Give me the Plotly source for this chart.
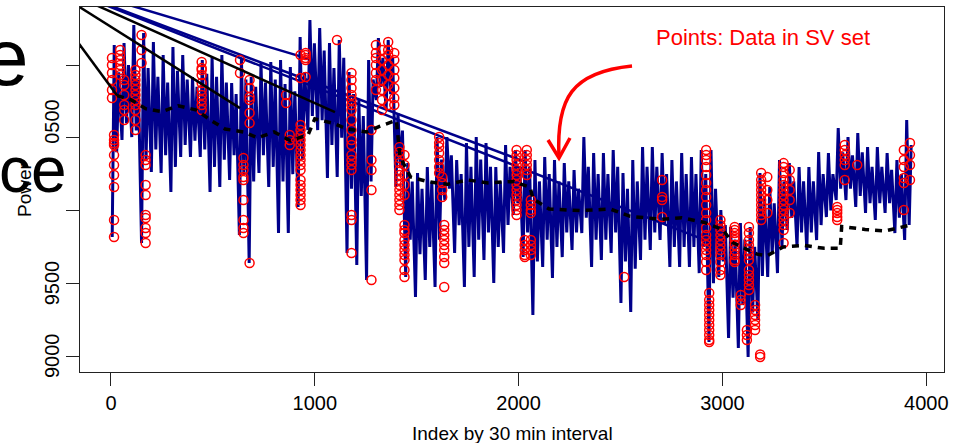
import plotly.graph_objects as go

# ---------------- data ----------------
x_ticks = [0, 1000, 2000, 3000, 4000]
y_ticks = [9000, 9500, 10000, 10500, 11000]
y_tick_labels = ["9000", "9500", "", "0500", ""]

# daily extremes of the power series (48 half-hour points per day)
day_max = [11138, 11151, 11275, 11220, 11158, 11069, 11124, 11069, 10918, 11034,
           11055, 11069, 10876, 11048, 10918, 11014, 11021, 11034, 10986, 11192,
           11309, 11254, 11151, 11172, 10952, 10759, 11034, 11186, 11172, 10670,
           10326, 10258, 10299, 10505, 10505, 10347, 10464, 10505, 10464, 10299,
           10450, 10416, 10416, 10347, 10368, 10347, 10326, 10278, 10505, 10395,
           10395, 10416, 10258, 10347, 10436, 10436, 10395, 10347, 10395, 10368,
           10416, 10416, 10003, 9887, 9914, 9887, 10258, 10162, 10347, 10326,
           10299, 10299, 10402, 10395, 10567, 10505, 10533, 10436, 10436, 10395,
           10347, 10622]
day_min = [9818, 10485, 10505, 9777, 10265, 10258, 10127, 10368, 10368, 10368,
           10127, 10162, 10210, 9832, 9639, 10258, 10162, 9845, 9845, 10024,
           10553, 10553, 10223, 10230, 9708, 9625, 9522, 10759, 10691, 10162,
           9543, 9406, 9522, 9474, 10072, 9708, 9474, 9543, 9660, 9502,
           9708, 9969, 9680, 9282, 9612, 9536, 9680, 9729, 9845, 9612,
           9660, 9708, 9364, 9302, 9660, 9729, 9797, 9612, 9612, 9612,
           9570, 9096, 9543, 9124, 9055, 8993, 9247, 9543, 9570, 9866,
           9749, 9729, 9797, 9955, 10072, 10072, 10024, 9983, 9935, 9983,
           9845, 9797]
# typical secondary swing of each day (edges of the dense band)
day_high2 = [10950, 11000, 10900, 10980, 10920, 10880, 10960, 10900, 10850, 10940,
             10920, 10880, 10800, 10900, 10850, 10880, 10900, 10870, 10820, 10950,
             11150, 11100, 10980, 11050, 10800, 10650, 10900, 11050, 11050, 10550,
             10200, 10150, 10200, 10350, 10380, 10250, 10300, 10350, 10300, 10200,
             10300, 10300, 10300, 10200, 10250, 10200, 10200, 10150, 10300, 10250,
             10250, 10300, 10150, 10200, 10300, 10300, 10250, 10200, 10250, 10250,
             10250, 10150, 9900, 9800, 9800, 9750, 10100, 10050, 10200, 10200,
             10200, 10200, 10250, 10250, 10400, 10380, 10400, 10300, 10300, 10280,
             10250, 10450]
day_low2 = [10400, 10600, 10550, 10350, 10420, 10380, 10300, 10450, 10480, 10420,
            10300, 10350, 10380, 10250, 10200, 10380, 10300, 10200, 10250, 10350,
            10650, 10620, 10450, 10500, 10150, 10100, 10200, 10850, 10800, 10300,
            9800, 9700, 9750, 9800, 10150, 9900, 9750, 9800, 9850, 9750,
            9900, 10050, 9850, 9650, 9800, 9750, 9850, 9850, 9950, 9800,
            9800, 9850, 9650, 9600, 9800, 9850, 9900, 9750, 9750, 9750,
            9750, 9500, 9650, 9400, 9350, 9300, 9550, 9700, 9750, 9950,
            9850, 9850, 9900, 10000, 10150, 10150, 10100, 10050, 10050, 10050,
            9950, 9900]
points_per_day = 48

# data in the SV set (index, values stacked at that index)
sv_idx = [5, 15, 45, 65, 120, 150, 170, 445, 633, 650, 680, 859, 877, 930, 955,
          1109, 1180, 1278, 1300, 1330, 1360, 1390, 1415, 1440, 1610, 1625, 1635,
          1990, 2030, 2040, 2060, 2518, 2704, 2920, 2935, 2990, 3060, 3090, 3120,
          3130, 3160, 3185, 3190, 3220, 3300, 3330, 3563, 3600, 3661, 3890, 3920]
sv_vals = [
    [11048, 11000, 10945, 10897, 10828, 10773],
    [10519, 10485, 10464, 10450, 10381, 10313, 10244, 10162, 9935, 9818],
    [11103, 11069, 11034, 11000, 10966, 10931],
    [10897, 10863, 10794, 10725, 10691, 10622],
    [10966, 10931, 10897, 10863, 10828, 10794, 10759, 10725, 10691, 10622, 10553],
    [11206, 11103, 11014],
    [10381, 10347, 10313, 10175, 10107, 9969, 9948, 9880, 9845, 9777],
    [11021, 10979, 10966, 10931, 10876, 10828, 10794, 10759, 10725, 10691],
    [11034, 10945],
    [10361, 10313, 10278, 10230, 10210, 10072, 9935, 9880, 9845],
    [10897, 10842, 10780, 10759, 10670, 10601, 9639],
    [10794, 10739],
    [10519, 10485, 10450],
    [11069, 10911, 10588, 10553, 10519, 10485, 10450, 10416, 10381, 10347, 10313,
     10278, 10210, 10175, 10141, 10107, 10072, 10038],
    [10918, 11083, 11069, 11048, 11034],
    [11172],
    [10945, 10897, 10842, 10794, 10759, 10725, 10691, 10622, 10553, 10485, 10450,
     10381, 10347, 10313, 10278, 9969, 9935, 9708],
    [10553, 10347, 10278, 10141, 9522],
    [11138, 11083, 11048, 11000, 10945, 10897, 10828],
    [11103, 11034, 10966, 10897, 10828, 10759, 10691],
    [11158, 11103, 11069, 11000, 10931, 10863, 10794, 10725],
    [11083, 11034, 10966, 10911, 10842, 10773, 10725],
    [10436, 10402, 10361, 10326, 10278, 10244, 10210, 10175, 10141, 10107, 10072,
     10038, 10003],
    [10381, 10313, 10244, 10175, 10107, 9900, 9866, 9845, 9797, 9763, 9729, 9694,
     9660, 9591, 9543],
    [10505, 10464, 10436, 10395, 10347, 10299, 10258],
    [10230, 10189, 10141, 10093],
    [9900, 9866, 9831, 9797, 9763, 9729, 9680, 9639, 9474],
    [10416, 10381, 10347, 10313, 10278, 10244, 10210, 10175, 10141, 10107, 10072,
     10038, 10003, 9969],
    [9797, 9763, 9729, 9694, 9680],
    [10416, 10381, 10347, 10313, 10278, 10244],
    [10072, 10038, 10003, 9983, 9797, 9763, 9729, 9694],
    [9543],
    [10210, 10093, 10072, 9955],
    [10416, 10381, 10347, 10299, 10244, 10189, 10141, 10093, 10038, 9983, 9935,
     9880, 9831, 9797, 9763, 9729, 9694, 9646, 9591],
    [9433, 9385, 9351, 9316, 9282, 9247, 9213, 9179, 9144, 9110, 9096],
    [9935, 9900, 9866, 9831, 9797, 9763, 9729, 9694, 9646, 9591, 9557],
    [9887, 9866, 9845, 9818, 9797, 9763, 9729, 9694, 9660, 9646],
    [9419, 9385, 9351],
    [9179, 9144, 9110],
    [9887, 9845, 9797, 9763, 9729, 9694, 9660, 9591, 9557, 9522, 9488, 9454],
    [9351, 9316, 9282, 9247, 9213, 9179],
    [8993, 9010],
    [10258, 10210, 10175, 10141, 10107, 10072, 10038, 10003, 9969, 9935],
    [10230, 10141, 10072, 9983],
    [10326, 10299, 10258, 10210, 10175, 10141, 10107, 10072, 10038, 10003, 9969,
     9935, 9900, 9866, 9777],
    [10278, 10210, 10141, 10072, 9983],
    [10024, 10003, 9983, 9955, 9935],
    [10450, 10416, 10381, 10347, 10313, 10210],
    [10313],
    [10416, 10347, 10299, 10223, 10189, 10003],
    [10464, 10381, 10313, 10210],
]

# fitted (dashed) curve
fit_idx = [30, 100, 170, 250, 330, 420, 490, 560, 650, 720, 800, 880, 967, 1000,
           1090, 1160, 1255, 1320, 1400, 1418, 1470, 1550, 1650, 1750, 1850, 1973,
           2056, 2071, 2150, 2300, 2450, 2547, 2700, 2800, 2906, 3000, 3050, 3136,
           3170, 3220, 3298, 3400, 3500, 3578, 3585, 3700, 3800, 3921]
fit_val = [10790, 10760, 10700, 10680, 10720, 10690, 10620, 10560, 10540, 10500,
           10540, 10480, 10520, 10630, 10600, 10560, 10540, 10580, 10620, 10370,
           10230, 10200, 10180, 10210, 10190, 10200, 10160, 10080, 10010, 10000,
           10010, 9960, 9940, 9950, 9920, 9870, 9780, 9720, 9700, 9690, 9750,
           9760, 9740, 9740, 9890, 9870, 9860, 9900]

# stray straight segments from an off-chart point
jump_origin = (-405, 11620)
black_jump_ends = [(30, 10790), (633, 10704), (1099, 10677)]
blue_jump_ends = [(991, 11034), (2040, 10330), (2915, 9797)]

BLUE = "#00008B"
RED = "#FF0000"
FONT = "Liberation Sans, Arial, sans-serif"


def paper_x(px):
    return (px - 80) / 864.0


def paper_y(py):
    return (372 - py) / 365.0


fig = go.Figure()

# power series
bx, by = [], []
for d in range(len(day_max)):
    base = d * points_per_day
    bx += [base + 6, base + 16, base + 28, base + 38]
    by += [day_min[d], day_max[d], day_low2[d], day_high2[d]]
fig.add_trace(go.Scatter(x=bx, y=by, mode="lines",
                         line=dict(color=BLUE, width=3), hoverinfo="skip"))

for ex, ey in blue_jump_ends:
    fig.add_trace(go.Scatter(x=[jump_origin[0], ex], y=[jump_origin[1], ey],
                             mode="lines", line=dict(color=BLUE, width=2.5),
                             hoverinfo="skip"))

# SV points
sx, sy = [], []
for i, vals in zip(sv_idx, sv_vals):
    for v in vals:
        sx.append(i)
        sy.append(v)
fig.add_trace(go.Scatter(x=sx, y=sy, mode="markers",
                         marker=dict(symbol="circle-open", size=9, color=RED,
                                     line=dict(color=RED, width=1.5)),
                         hoverinfo="skip"))

# dashed fit
fig.add_trace(go.Scatter(x=fit_idx, y=fit_val, mode="lines",
                         line=dict(color="black", width=3.5, dash="7px,6px"),
                         hoverinfo="skip"))

for ex, ey in black_jump_ends:
    fig.add_trace(go.Scatter(x=[jump_origin[0], ex], y=[jump_origin[1], ey],
                             mode="lines", line=dict(color="black", width=2.5),
                             hoverinfo="skip"))

annotations = []
# large slide text bleeding in from the left
annotations.append(dict(text="e", xref="paper", yref="paper",
                        x=paper_x(6), y=paper_y(58), xanchor="center", yanchor="middle",
                        showarrow=False, font=dict(family=FONT, size=80, color="black")))
annotations.append(dict(text="ce", xref="paper", yref="paper",
                        x=paper_x(33), y=paper_y(170), xanchor="center", yanchor="middle",
                        showarrow=False, font=dict(family=FONT, size=64, color="black")))

# y tick labels (rotated, R style)
for v, lab in zip(y_ticks, y_tick_labels):
    if lab:
        yy = v if lab != "0500" else 10610
        annotations.append(dict(text=lab, xref="paper", yref="y", x=paper_x(52), y=yy,
                                xanchor="center", yanchor="middle", textangle=-90,
                                showarrow=False,
                                font=dict(family=FONT, size=20, color="black")))

annotations.append(dict(text="Power", xref="paper", yref="paper",
                        x=paper_x(24), y=paper_y(190), xanchor="center", yanchor="middle",
                        textangle=-90, showarrow=False,
                        font=dict(family=FONT, size=19, color="black")))
annotations.append(dict(text="Index by 30 min interval", xref="paper", yref="paper",
                        x=paper_x(512), y=paper_y(433), xanchor="center", yanchor="middle",
                        showarrow=False, font=dict(family=FONT, size=19, color="black")))
annotations.append(dict(text="Points: Data in SV set", xref="paper", yref="paper",
                        x=paper_x(763), y=paper_y(37), xanchor="center", yanchor="middle",
                        showarrow=False, font=dict(family=FONT, size=22, color=RED)))


def pt(px, py):
    return "%.4f,%.4f" % (paper_x(px), paper_y(py))


arrow_path = "M " + pt(632, 66) + " C " + pt(572, 72) + " " + pt(556, 98) + " " + pt(559, 157)
head_path = "M " + pt(548, 140) + " L " + pt(559, 158) + " L " + pt(570, 138)
shapes = [
    dict(type="path", xref="paper", yref="paper", path=arrow_path,
         line=dict(color=RED, width=3.5)),
    dict(type="path", xref="paper", yref="paper", path=head_path,
         line=dict(color=RED, width=3.5)),
]

fig.update_layout(
    width=961, height=443,
    margin=dict(l=80, r=17, t=7, b=71),
    paper_bgcolor="white", plot_bgcolor="white",
    showlegend=False,
    font=dict(family=FONT, color="black", size=20),
    annotations=annotations,
    shapes=shapes,
)
fig.update_xaxes(range=[-152, 4087], tickvals=x_ticks,
                 ticktext=[str(t) for t in x_ticks],
                 ticks="outside", ticklen=13, tickwidth=1, tickcolor="#222",
                 showline=True, linecolor="#222", linewidth=1, mirror=True,
                 showgrid=False, zeroline=False,
                 tickfont=dict(family=FONT, size=20, color="black"))
fig.update_yaxes(range=[8890, 11399], tickvals=y_ticks, showticklabels=False,
                 ticks="outside", ticklen=13, tickwidth=1, tickcolor="#222",
                 showline=True, linecolor="#222", linewidth=1, mirror=True,
                 showgrid=False, zeroline=False)

fig.write_html("out.html", config={"displayModeBar": False},
               post_script="document.body.style.margin='0px';"
                           "document.body.style.overflow='hidden';")
